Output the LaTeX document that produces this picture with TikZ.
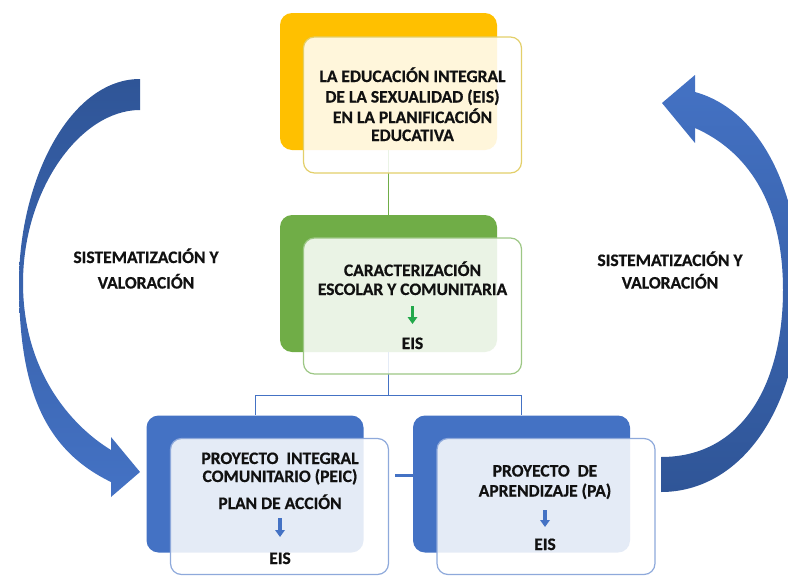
\documentclass[tikz,border=0pt]{standalone}
\usepackage{fontspec}
\setmainfont{Carlito}[BoldFeatures={FakeBold=0.6}]
\usetikzlibrary{arrows.meta}
\definecolor{gold}{HTML}{FFC000}
\definecolor{goldline}{HTML}{E3CF6A}
\definecolor{leaf}{HTML}{70AD47}
\definecolor{leafline}{HTML}{9DC785}
\definecolor{arrowgreen}{HTML}{22A84A}
\definecolor{azure}{HTML}{4472C4}
\definecolor{azureline}{HTML}{8EA9DB}
\definecolor{navy}{HTML}{2F5597}
\definecolor{ink}{HTML}{111111}
\begin{document}
\begin{tikzpicture}[x=1pt,y=-1pt,
  backbox/.style={minimum width=217pt,minimum height=137pt,rounded corners=12pt,inner sep=0pt,draw=none},
  frontbox/.style={minimum width=218pt,minimum height=136pt,rounded corners=11pt,inner sep=0pt,fill=white,fill opacity=0.86,line width=1.2pt},
  txt/.style={font=\fontsize{17.5}{20}\selectfont\bfseries,text=ink,inner sep=0pt,anchor=base},
  conn/.style={line width=0.9pt},
  minidown/.style={line width=3.2pt,-{Triangle[width=9.5pt,length=7pt]}},
]
\useasboundingbox (0,0) rectangle (788,576);
% back boxes
\node[backbox,fill=gold]  (topback)   at (388.5,81.5) {};
\node[backbox,fill=leaf]  (midback)   at (388.5,283.5) {};
\node[backbox,fill=azure] (leftback)  at (255,484) {};
\node[backbox,fill=azure] (rightback) at (521.5,484) {};
% connectors
\draw[conn,leaf] (topback.south) -- (midback.north);
\coordinate (fork) at (388.5,395.5);
\draw[conn,azure] (midback.south) -- (fork) -| (leftback.north);
\draw[conn,azure] (fork) -| (rightback.north);
% front boxes
\node[frontbox,draw=goldline]  (topfront)   at (412.5,105) {};
\node[frontbox,draw=leafline]  (midfront)   at (412.5,306) {};
\node[frontbox,draw=azureline] (leftfront)  at (279.5,506.5) {};
\node[frontbox,draw=azureline] (rightfront) at (546,506.5) {};
% bridge between bottom boxes
\coordinate (bridge) at (395,475);
\draw[azure,line width=3pt] (bridge) -- (bridge -| rightback.west);
% texts
\node[txt] (a1) at (412.5,82)  {LA EDUCACIÓN INTEGRAL};
\node[txt] (a2) at (412.5,102.5) {DE LA SEXUALIDAD (EIS)};
\node[txt] (a3) at (412.5,123) {EN LA PLANIFICACIÓN};
\node[txt] (a4) at (412.5,141) {EDUCATIVA};
\node[txt] (g1) at (412.5,276) {CARACTERIZACIÓN};
\node[txt] (g2) at (412.5,295) {ESCOLAR Y COMUNITARIA};
\node[txt] (g3) at (412.5,349) {EIS};
\node[txt] (l1) at (280,464) {PROYECTO\hspace{4pt} INTEGRAL};
\node[txt] (l2) at (280,482) {COMUNITARIO (PEIC)};
\node[txt] (l3) at (280,509) {PLAN DE ACCIÓN};
\node[txt] (l4) at (280,564) {EIS};
\node[txt] (r1) at (545,476.5) {PROYECTO\hspace{4pt} DE};
\node[txt] (r2) at (545,496.5) {APRENDIZAJE (PA)};
\node[txt] (r3) at (545,550) {EIS};
\node[txt] (s1) at (146,263) {SISTEMATIZACIÓN Y};
\node[txt] (s2) at (146,288.5) {VALORACIÓN};
\node[txt] (s3) at (670,266) {SISTEMATIZACIÓN Y};
\node[txt] (s4) at (670,288.5) {VALORACIÓN};
% small arrows
\draw[minidown,arrowgreen,shorten <=11pt,shorten >=25pt] (g2.base) -- (g3.base);
\draw[minidown,azure,shorten <=9pt,shorten >=27pt] (l3.base) -- (l4.base);
\draw[minidown,azure,shorten <=13.5pt,shorten >=23pt] (r2.base) -- (r3.base);
% curved arrows
\shade[top color=navy,bottom color=azure]
  (140,79) .. controls (70,79) and (19,180) .. (19,283)
  .. controls (19,390) and (45,450) .. (111,482)
  -- (111,497) -- (140,472) -- (111,437) -- (111,450)
  .. controls (70,425) and (23,370) .. (23,283)
  .. controls (23,190) and (80,110) .. (140,110) -- cycle;
\shade[top color=azure,bottom color=navy]
  (661,457) .. controls (745,457) and (783,380) .. (783,290)
  .. controls (783,200) and (745,150) .. (695,128)
  -- (695,143) -- (662,103) -- (695,75) -- (695,92)
  .. controls (760,110) and (800,190) .. (800,290)
  .. controls (800,410) and (740,492) .. (661,492) -- cycle;
\end{tikzpicture}
\end{document}
